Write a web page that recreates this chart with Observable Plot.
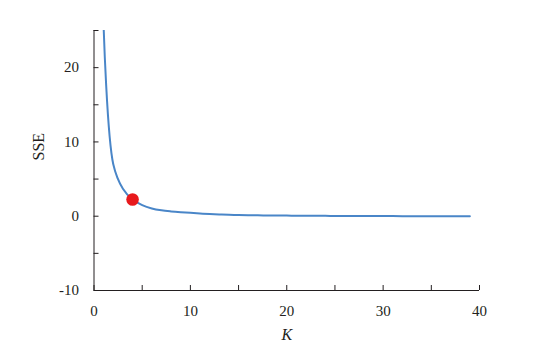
<!DOCTYPE html>
<html>
<head>
<meta charset="utf-8">
<script src="https://cdn.jsdelivr.net/npm/d3@7"></script>
<script src="https://cdn.jsdelivr.net/npm/@observablehq/plot@0.6"></script>
<style>
  html, body { margin: 0; padding: 0; background: #fff; }
  #chart svg { display: block; }
</style>
</head>
<body>
<div id="chart"></div>
<script>
// K values and SSE readings
const kValues = [1,2,3,4,5,6,7,8,9,10,11,12,13,14,15,16,17,18,19,20,21,22,23,24,25,26,27,28,29,30,31,32,33,34,35,36,37,38,39];
const sseValues = [25.5,7.0,3.7,2.25,1.5,1.05,0.8,0.65,0.54,0.45,0.36,0.29,0.24,0.2,0.16,0.14,0.12,0.1,0.09,0.08,0.07,0.06,0.05,0.05,0.04,0.04,0.03,0.03,0.02,0.02,0.02,0.01,0.01,0.01,0.01,0.005,0.003,0.001,0];
// highlighted elbow point
const elbowK = [4];
const elbowSSE = [2.25];
// axis ticks
const xMajorTicks = [0,10,20,30,40];
const xMinorTicks = [0,5,10,15,20,25,30,35,40];
const yMajorTicks = [-10,0,10,20];
const yMinorTicks = [-10,-5,0,5,10,15,20,25];
const xLabel = "K";
const yLabel = "SSE";

const curveData = kValues.map((k, i) => ({k, sse: sseValues[i]}));
const elbowData = elbowK.map((k, i) => ({k, sse: elbowSSE[i]}));

const font = "'Liberation Serif', 'Times New Roman', serif";
const ink = "#231f20";

const chart = Plot.plot({
  width: 539,
  height: 356,
  marginLeft: 93.5,
  marginRight: 60,
  marginTop: 30,
  marginBottom: 66,
  style: {fontFamily: font, fontSize: "15px", color: ink, background: "#fff", overflow: "visible"},
  x: {domain: [0, 40]},
  y: {domain: [-10, 25]},
  marks: [
    // minor + major ticks (inward)
    Plot.axisX(xMinorTicks, {tickSize: -5, tickFormat: () => "", stroke: ink, label: null}),
    Plot.axisY(yMinorTicks, {tickSize: -5, tickFormat: () => "", stroke: ink, label: null}),
    // tick labels
    Plot.axisX(xMajorTicks, {tickSize: 0, tickPadding: 15, fontSize: 15, fill: ink, label: null, tickFormat: d => String(d)}),
    Plot.axisY(yMajorTicks, {tickSize: 0, tickPadding: 15, fontSize: 15, fill: ink, label: null, tickFormat: d => String(d)}),
    // axis lines
    Plot.ruleY([-10], {stroke: ink, strokeWidth: 1}),
    Plot.ruleX([0], {stroke: ink, strokeWidth: 1}),
    // SSE curve
    Plot.line(curveData, {x: "k", y: "sse", stroke: "#4a86c8", strokeWidth: 2, curve: "catmull-rom", clip: true}),
    // elbow point
    Plot.dot(elbowData, {x: "k", y: "sse", r: 6.3, fill: "#e8191c", stroke: "none"}),
    // axis titles
    Plot.text([yLabel], {text: d => d, frameAnchor: "left", dx: -55, rotate: -90, fontSize: 16, fill: ink}),
    Plot.text([xLabel], {text: d => d, frameAnchor: "bottom", dy: 49, fontSize: 16, fontStyle: "italic", fill: ink})
  ]
});
document.getElementById("chart").appendChild(chart);
</script>
</body>
</html>
